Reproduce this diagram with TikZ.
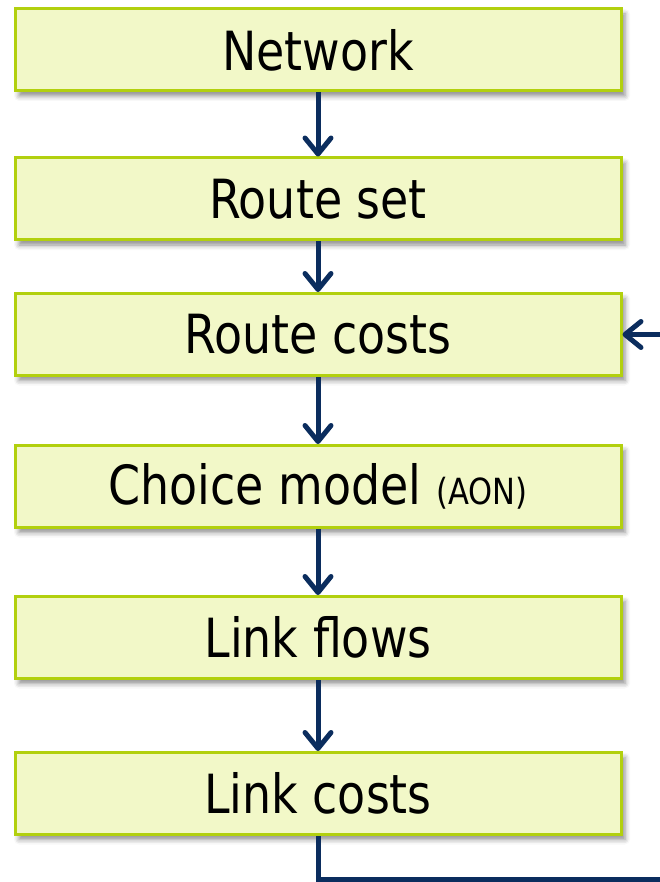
\documentclass[tikz,border=0pt]{standalone}
\usepackage{fontspec}
\setmainfont{DejaVu Sans}[FakeStretch=0.85]
\usetikzlibrary{arrows.meta,shadows.blur}
\definecolor{boxfill}{HTML}{F2F8C8}
\definecolor{boxline}{HTML}{B2D00E}
\definecolor{flowblue}{HTML}{0B2D5E}
\tikzset{
  stepbox/.style={draw=boxline, line width=3pt, fill=boxfill,
    minimum width=606pt, minimum height=82pt, inner sep=0pt,
    font=\fontsize{54}{60}\selectfont,
    blur shadow={shadow xshift=4pt, shadow yshift=-5pt, shadow blur radius=5pt, shadow opacity=45}},
  flow/.style={draw=flowblue, line width=5pt,
    -{Straight Barb[round,length=16pt,width=26pt]}},
  flowline/.style={draw=flowblue, line width=5pt}
}
\begin{document}
\begin{tikzpicture}[x=1pt,y=-1pt]
\useasboundingbox (0,0) rectangle (660,882);
% process boxes, top to bottom
\node[stepbox] (net)    at (318,50)  {Network};
\node[stepbox] (rset)   at (318,199) {Route set};
\node[stepbox] (rcost)  at (318,334.5) {Route costs};
\node[stepbox] (choice) at (318,486.5) {Choice model {\fontsize{36}{40}\selectfont(AON)}};
\node[stepbox] (lflow)  at (318,637.5) {Link flows};
\node[stepbox] (lcost)  at (318,793.5) {Link costs};
% forward flow
\draw[flow] (net) -- (rset);
\draw[flow] (rset) -- (rcost);
\draw[flow] (rcost) -- (choice);
\draw[flow] (choice) -- (lflow);
\draw[flow] (lflow) -- (lcost);
% feedback loop leaving at the right edge
\coordinate (loopbot) at (662,879.5);
\coordinate (looptop) at (662,334.5);
\draw[flowline] (lcost.south) |- (loopbot);
\draw[flow] (looptop) -- (rcost.east);
\end{tikzpicture}
\end{document}
